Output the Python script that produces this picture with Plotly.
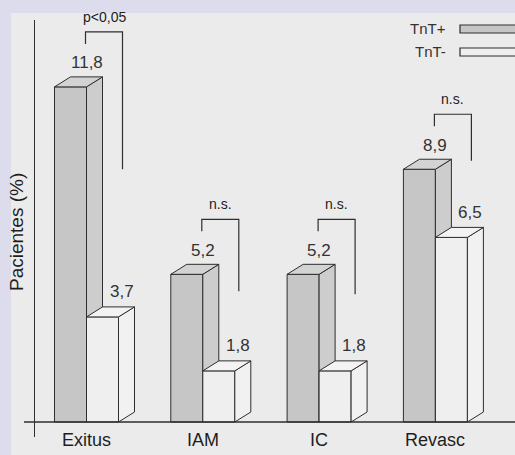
import plotly.graph_objects as go

# ---- data ----
categories = ["Exitus", "IAM", "IC", "Revasc"]
tnt_pos = [11.8, 5.2, 5.2, 8.9]
tnt_neg = [3.7, 1.8, 1.8, 6.5]
pos_labels = ["11,8", "5,2", "5,2", "8,9"]
neg_labels = ["3,7", "1,8", "1,8", "6,5"]
significance = ["p<0,05", "n.s.", "n.s.", "n.s."]
bracket_end = [8.9, 4.6, 4.5, 9.2]   # lower end of the long bracket leg (value units)
series_names = ["TnT+", "TnT-"]

# ---- styling / geometry ----
W, H = 515, 455
ML, MR, MT, MB = 35, 0, 20, 18
plot_w, plot_h = W - ML - MR, H - MT - MB
PX_PER_UNIT_Y = 28.4
BASE_PX = 422                    # pixel row of value 0
PX_PER_GROUP = 116.3
FIRST_CENTER_PX = 86.5

y_lo = -(MT + plot_h - BASE_PX) / PX_PER_UNIT_Y
y_hi = (BASE_PX - MT) / PX_PER_UNIT_Y
x_lo = (ML - FIRST_CENTER_PX) / PX_PER_GROUP
x_hi = (W - MR - FIRST_CENTER_PX) / PX_PER_GROUP

bw = 32 / PX_PER_GROUP           # bar front width
ddx = 16 / PX_PER_GROUP          # depth offset x
ddy = 10 / PX_PER_UNIT_Y         # depth offset y
ux = 1 / PX_PER_GROUP
uy = 1 / PX_PER_UNIT_Y

LINE = "#2e2e2e"
FONT = "Liberation Sans Narrow, Arial Narrow, Liberation Sans, Arial, sans-serif"
BOLDISH = "Liberation Sans, Arial, sans-serif"
colors = {
    "TnT+": {"front": "#c6c6c6", "side": "#cdcdcd", "top": "#d3d3d3"},
    "TnT-": {"front": "#efefef", "side": "#f1f1f1", "top": "#f3f3f3"},
}

fig = go.Figure()


def poly(xs, ys, fill):
    fig.add_trace(go.Scatter(
        x=xs + [xs[0]], y=ys + [ys[0]], mode="lines", fill="toself",
        fillcolor=fill, line=dict(color=LINE, width=1),
        hoverinfo="skip", showlegend=False))


def bar3d(x0, v, c):
    x1 = x0 + bw
    poly([x0, x1, x1, x0], [0, 0, v, v], c["front"])
    poly([x1, x1 + ddx, x1 + ddx, x1], [0, ddy, v + ddy, v], c["side"])
    poly([x0, x1, x1 + ddx, x0 + ddx], [v, v, v + ddy, v + ddy], c["top"])


annotations = []
shapes = []

for i, cat in enumerate(categories):
    bar3d(i - bw, tnt_pos[i], colors["TnT+"])
    bar3d(i, tnt_neg[i], colors["TnT-"])

    # value labels
    annotations.append(dict(x=i - bw / 2 + 16 * ux, y=tnt_pos[i], text=pos_labels[i],
                            showarrow=False, yshift=24, yanchor="middle",
                            font=dict(size=17, color="#333")))
    annotations.append(dict(x=i + bw / 2 + 19 * ux, y=tnt_neg[i], text=neg_labels[i],
                            showarrow=False, yshift=25, yanchor="middle",
                            font=dict(size=17, color="#333")))
    # category label
    annotations.append(dict(x=i, y=0, text=cat, showarrow=False, yshift=-18,
                            yanchor="middle",
                            font=dict(size=18, color="#1e1e1e", family=BOLDISH)))
    # significance bracket
    top = tnt_pos[i] + 55 * uy
    bl = i - bw + 31 * ux
    br = bl + 37 * ux
    fig.add_trace(go.Scatter(
        x=[bl, bl, br, br], y=[top - 12 * uy, top, top, bracket_end[i]],
        mode="lines", line=dict(color=LINE, width=1.2),
        hoverinfo="skip", showlegend=False))
    annotations.append(dict(x=(bl + br) / 2, y=top, text=significance[i], showarrow=False,
                            yshift=15, yanchor="middle", font=dict(size=14, color="#222")))

# baseline
shapes.append(dict(type="line", xref="paper", yref="y", x0=(24 - ML) / plot_w, x1=1,
                   y0=0, y1=0, line=dict(color=LINE, width=1.3)))
# scanned page background
shapes.append(dict(type="rect", xref="paper", yref="paper", layer="below",
                   x0=(11 - ML) / plot_w, x1=1.05,
                   y0=-0.1, y1=(MT + plot_h - 13) / plot_h,
                   fillcolor="#ebebeb", line=dict(width=0)))


def px_x(p):
    return (p - ML) / plot_w


def px_y(p):
    return (MT + plot_h - p) / plot_h


# legend (drawn manually)
for name, yc in zip(series_names, [29, 52]):
    shapes.append(dict(type="rect", xref="paper", yref="paper",
                       x0=px_x(460), x1=px_x(517), y0=px_y(yc + 4), y1=px_y(yc - 4),
                       fillcolor=colors[name]["front"], line=dict(color=LINE, width=1.2)))
    annotations.append(dict(xref="paper", yref="paper", x=px_x(448), y=px_y(yc),
                            xanchor="right", yanchor="middle", text=name, showarrow=False,
                            font=dict(size=15, color="#333")))

# y-axis title
annotations.append(dict(xref="paper", yref="paper", x=px_x(17), y=px_y(232),
                        text="Pacientes (%)", textangle=-90, showarrow=False,
                        xanchor="center", yanchor="middle",
                        font=dict(size=19, color="#1e1e1e", family=BOLDISH)))

fig.update_layout(
    width=W, height=H,
    margin=dict(l=ML, r=MR, t=MT, b=MB),
    paper_bgcolor="#dcdcec",
    plot_bgcolor="rgba(0,0,0,0)",
    font=dict(family=FONT),
    showlegend=False,
    xaxis=dict(range=[x_lo, x_hi], showgrid=False, zeroline=False, showticklabels=False,
               ticks="", showline=False, fixedrange=True),
    yaxis=dict(range=[y_lo, y_hi], showgrid=False, zeroline=False, showticklabels=False,
               ticks="", showline=True, linecolor=LINE, linewidth=1.3, mirror=False,
               fixedrange=True),
    shapes=shapes,
    annotations=annotations,
)

fig.write_html(
    "out.html",
    config={"displayModeBar": False},
    post_script="document.body.style.margin='0';document.body.style.overflow='hidden';"
                "document.body.style.background='#dcdcec';",
)
